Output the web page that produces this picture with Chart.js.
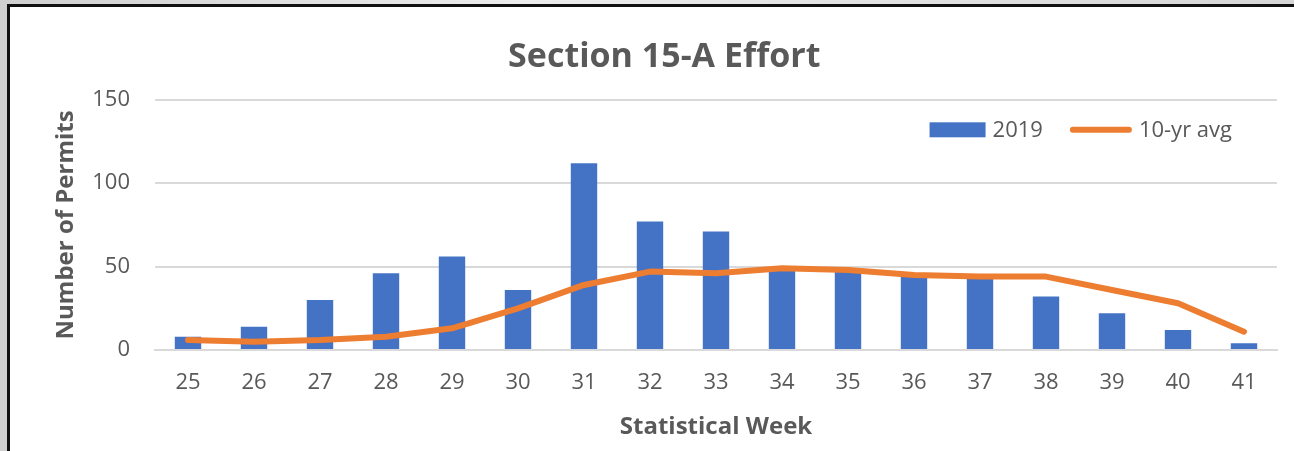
<!DOCTYPE html>
<html lang="en">

<head>
    <meta charset="UTF-8">
    <title>Section 15-A Effort</title>
    <script src="https://cdn.jsdelivr.net/npm/chart.js"></script>
    <style>
        body { margin: 0; width: 1294px; height: 451px; overflow: hidden; background: linear-gradient(to right, #cfcfcf, #ececec 40%, #d6d6d6); }
        #frame { position: absolute; left: 7px; top: 4px; width: 1300px; height: 460px; background: #ffffff; border-left: 3px solid #111; border-top: 3px solid #111; }
        #chart { position: absolute; left: 0; top: 0; }
    </style>
</head>

<body>
    <div id="frame"></div>
    <canvas id="chart" width="1294" height="451"></canvas>

    <script>
        // values
        const weeks = [ '25', '26', '27', '28', '29', '30', '31', '32', '33', '34', '35', '36', '37', '38', '39', '40', '41' ];
        const permits2019 = [ 8, 14, 30, 46, 56, 36, 112, 77, 71, 48, 47, 45, 43, 32, 22, 12, 4 ];
        const tenYearAvg = [ 6, 5, 6, 8, 13, 25, 39, 47, 46, 49, 48, 45, 44, 44, 36, 28, 11 ];
        const yTicks = [ 0, 50, 100, 150 ];

        const textGray = '#595959';
        const blue = '#4472C4';
        const orange = '#ED7D31';
        const fontFamily = '"Open Sans", Lato, sans-serif';

        // legend drawn inside the plot area, top right, like the Excel original
        const insideLegend = {
            id: 'insideLegend',
            afterDraw( chart ) {
                const ctx = chart.ctx;
                const area = chart.chartArea;
                const items = [
                    { text: '2019', kind: 'box', color: blue, mark: 56 },
                    { text: '10-yr avg', kind: 'line', color: orange, mark: 62 }
                ];
                ctx.save();
                ctx.font = '22px ' + fontFamily;
                ctx.textBaseline = 'middle';
                const gap = 7, between = 27;
                let total = 0;
                items.forEach( ( it, i ) => {
                    it.w = ctx.measureText( it.text ).width;
                    total += it.mark + gap + it.w + ( i ? between : 0 );
                } );
                let x = area.right - 45 - total;
                const y = area.top + 30;
                items.forEach( it => {
                    if ( it.kind === 'box' ) {
                        ctx.fillStyle = it.color;
                        ctx.fillRect( x, y - 7.5, it.mark, 15 );
                    } else {
                        ctx.strokeStyle = it.color;
                        ctx.lineWidth = 6;
                        ctx.lineCap = 'round';
                        ctx.beginPath();
                        ctx.moveTo( x + 3, y );
                        ctx.lineTo( x + it.mark - 3, y );
                        ctx.stroke();
                    }
                    x += it.mark + gap;
                    ctx.fillStyle = textGray;
                    ctx.fillText( it.text, x, y + 1 );
                    x += it.w + between;
                } );
                ctx.restore();
            }
        };

        const ctx = document.getElementById( 'chart' ).getContext( '2d' );
        const myChart = new Chart( ctx, {
            data: {
                labels: weeks,
                datasets: [
                    {
                        type: 'line',
                        label: '10-yr avg',
                        data: tenYearAvg,
                        borderColor: orange,
                        backgroundColor: orange,
                        borderWidth: 6,
                        borderCapStyle: 'round',
                        borderJoinStyle: 'round',
                        pointRadius: 0,
                        tension: 0,
                        order: 0
                    },
                    {
                        type: 'bar',
                        label: '2019',
                        data: permits2019,
                        backgroundColor: blue,
                        barPercentage: 0.4,
                        categoryPercentage: 1,
                        order: 1
                    }
                ]
            },
            options: {
                responsive: false,
                animation: false,
                layout: { padding: { left: 51.6, right: 17, top: 0, bottom: 9.6 } },
                plugins: {
                    legend: { display: false },
                    tooltip: { enabled: false },
                    title: {
                        display: true,
                        text: 'Section 15-A Effort',
                        color: textGray,
                        font: { family: fontFamily, size: 34, weight: 'bold' },
                        padding: { top: 37, bottom: 22 }
                    }
                },
                scales: {
                    x: {
                        afterFit: axis => { axis.height = 91.4; },
                        grid: { display: false, drawTicks: false },
                        border: { display: true, color: '#d9d9d9', width: 2 },
                        ticks: { color: textGray, font: { family: fontFamily, size: 22 }, padding: 20 },
                        title: {
                            display: true,
                            text: 'Statistical Week',
                            color: textGray,
                            font: { family: fontFamily, size: 24, weight: 'bold' },
                            padding: { top: 0, bottom: 0 }
                        }
                    },
                    y: {
                        min: 0,
                        max: 150,
                        afterBuildTicks: axis => { axis.ticks = yTicks.map( v => ( { value: v } ) ); },
                        afterFit: axis => { axis.width = 103.4; },
                        grid: { color: '#d9d9d9', lineWidth: 2, drawTicks: false },
                        border: { display: false },
                        ticks: { color: textGray, font: { family: fontFamily, size: 22 }, padding: 25 },
                        title: {
                            display: true,
                            text: 'Number of Permits',
                            color: textGray,
                            font: { family: fontFamily, size: 24, weight: 'bold' },
                            padding: { top: 0, bottom: 0 }
                        }
                    }
                }
            },
            plugins: [ insideLegend ]
        } );
    </script>
</body>

</html>
